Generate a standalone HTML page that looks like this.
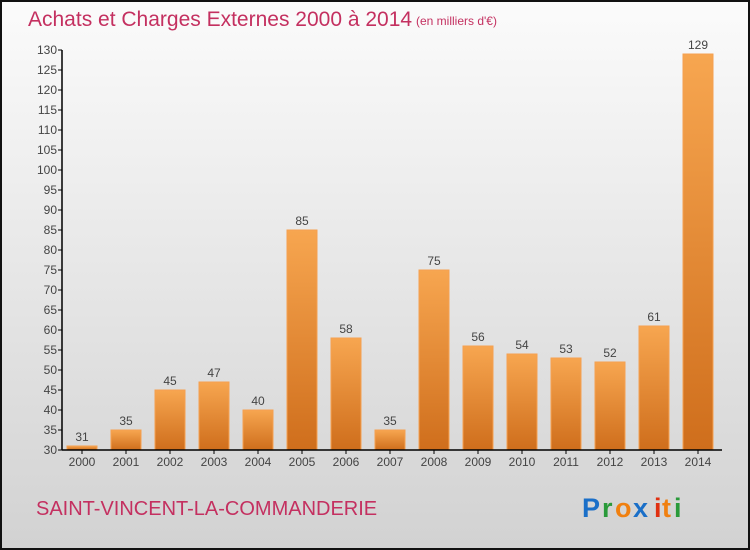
<!DOCTYPE html>
<html><head><meta charset="utf-8"><style>
body{margin:0;}
#wrap{position:relative;width:750px;height:550px;box-sizing:border-box;border:2px solid #111;background:linear-gradient(#fbfbfb,#d2d2d2);font-family:"Liberation Sans",sans-serif;overflow:hidden;}
svg text{font-family:"Liberation Sans",sans-serif;}
</style></head><body>
<div id="wrap">
<svg id="chart" width="750" height="550" style="position:absolute;left:-2px;top:-2px">
<defs><linearGradient id="bg" x1="0" y1="0" x2="0" y2="1"><stop offset="0" stop-color="#f7a650"/><stop offset="1" stop-color="#cf6e1c"/></linearGradient></defs>
<text x="28" y="26" font-size="21" fill="#c43060">Achats et Charges Externes 2000 à 2014</text>
<text x="416" y="25" font-size="12" fill="#c43060">(en milliers d'€)</text>
<text x="36" y="515" font-size="20" fill="#c43060">SAINT-VINCENT-LA-COMMANDERIE</text>
<g font-size="27" font-weight="bold">
<text x="582" y="517" fill="#1a6fc8">P</text><text x="602" y="517" fill="#2a9a3a">r</text><text x="615" y="517" fill="#f08010">o</text><text x="633" y="517" fill="#1a6fc8">x</text><text x="654" y="517" fill="#e03010">i</text><text x="662" y="517" fill="#f08010">t</text><text x="674" y="517" fill="#2a9a3a">i</text>
</g>
</svg>
</div>
<script>
const categories=["2000","2001","2002","2003","2004","2005","2006","2007","2008","2009","2010","2011","2012","2013","2014"];
const values=[31,35,45,47,40,85,58,35,75,56,54,53,52,61,129];
const yTicks=[30,35,40,45,50,55,60,65,70,75,80,85,90,95,100,105,110,115,120,125,130];
const svg=document.getElementById('chart');
const NS='http://www.w3.org/2000/svg';
const yMin=30,yMax=130,y0=450,y1=50;
function y(v){return y0-(v-yMin)*(y0-y1)/(yMax-yMin);}
function x(i){return 82+i*44;}
function mk(t,a){const e=document.createElementNS(NS,t);for(const k in a)e.setAttribute(k,a[k]);svg.appendChild(e);return e;}
yTicks.forEach(v=>{
 const l=mk('line',{x1:58,x2:62,y1:y(v),y2:y(v),stroke:'#000'});
 
 
 const t=mk('text',{x:57,y:y(v)+4,'font-size':12,fill:'#444','text-anchor':'end'});t.textContent=v;
 
 
});
categories.forEach((c,i)=>{
 const v=values[i];
 const r=mk('rect',{x:x(i)-15,y:y(v),width:30,height:y0-y(v),fill:'url(#bg)',stroke:'#f5a050','stroke-width':1});
 
 
 const t=mk('text',{x:x(i),y:y(v)-5,'font-size':12,fill:'#444','text-anchor':'middle'});t.textContent=v;
 
 
 const k=mk('line',{x1:x(i),x2:x(i),y1:y0,y2:y0+4,stroke:'#000'});
 
 
 const xl=mk('text',{x:x(i),y:466,'font-size':12,fill:'#444','text-anchor':'middle'});xl.textContent=c;
 
 
});
const ya=mk('line',{x1:62,x2:62,y1:y1,y2:y0,stroke:'#000','stroke-width':1.5});


const xa=mk('line',{x1:62,x2:722,y1:y0,y2:y0,stroke:'#000','stroke-width':1.5});


</script>
</body></html>
